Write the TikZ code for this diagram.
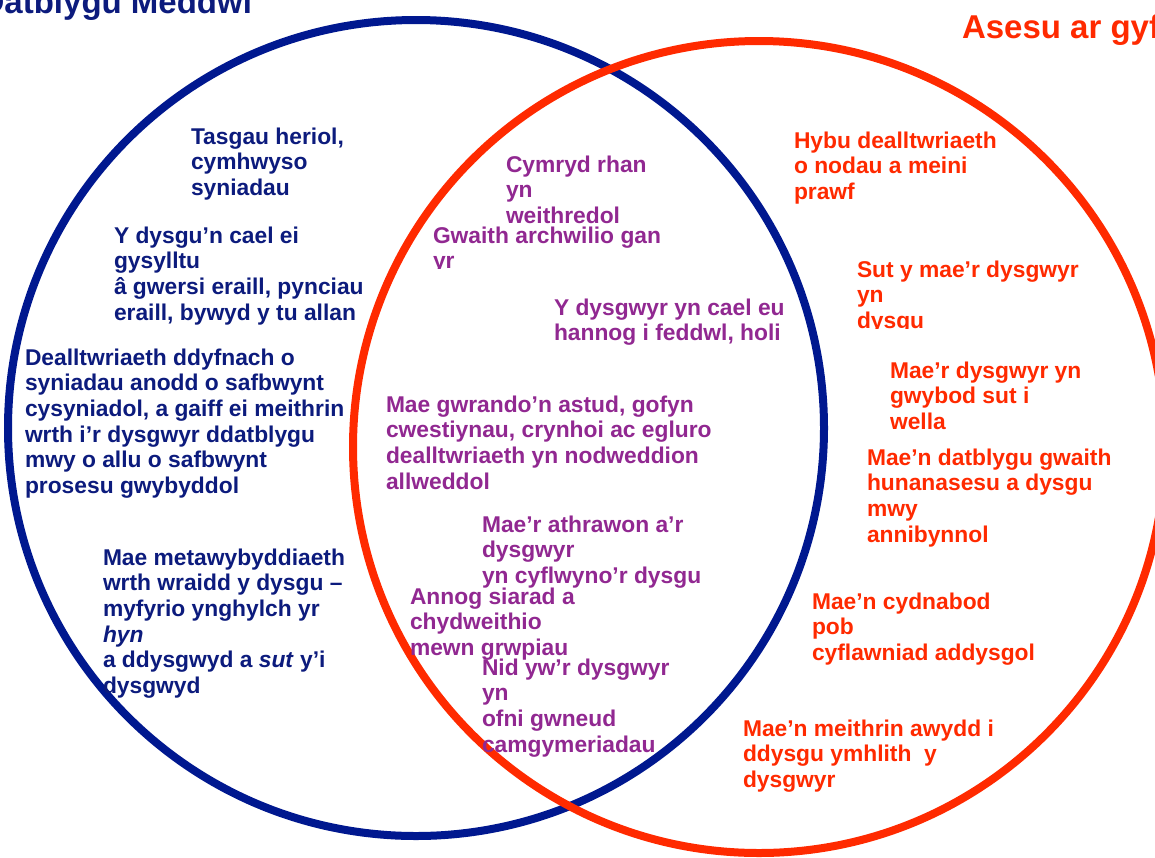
\documentclass[tikz,border=0pt]{standalone}
\usepackage{fontspec}
\setmainfont{Liberation Sans}
\definecolor{navy}{RGB}{0,24,143}
\definecolor{navytxt}{RGB}{12,27,125}
\definecolor{redc}{RGB}{255,42,0}
\definecolor{purp}{RGB}{145,40,145}
\newcommand\blk[1]{\vtop{\baselineskip=25.7pt\lineskiplimit=-100pt\lineskip=0pt\halign{##\hfil\cr#1\crcr}}}
\tikzset{
  txt/.style={anchor=base west, inner sep=0pt, outer sep=0pt, font=\fontsize{22.8}{25.7}\selectfont\bfseries},
  bt/.style={txt, text=navytxt},
  pt/.style={txt, text=purp},
  rt/.style={txt, text=redc},
  ring/.style={line width=8pt},
  ttl/.style={inner sep=0pt, outer sep=0pt, font=\fontsize{33}{37}\selectfont\bfseries}
}
\begin{document}
\begin{tikzpicture}[x=1pt,y=-1pt]
\useasboundingbox (0,0) rectangle (1155,857);
\fill[white] (0,0) rectangle (1155,857);
\draw[ring, navy] (416,428) circle[radius=408pt];
\draw[ring, redc] (759,447) circle[radius=406pt];
% titles
\node[ttl, anchor=base east, text=navytxt] (tdm) at (252,13) {Datblygu Meddwl};
\node[ttl, anchor=base west, text=redc] (taf) at (962,38) {Asesu ar gyfer dysgu};
% blue texts
\node[bt] (b1) at (191,144) {\blk{Tasgau heriol,\cr cymhwyso\cr syniadau}};
\node[bt] (b2) at (114,243) {\blk{Y dysgu’n cael ei\cr gysylltu\cr â gwersi eraill, pynciau\cr eraill, bywyd y tu allan}};
\node[bt] (b3) at (25,365) {\blk{Dealltwriaeth ddyfnach o\cr syniadau anodd o safbwynt\cr cysyniadol, a gaiff ei meithrin\cr wrth i’r dysgwyr ddatblygu\cr mwy o allu o safbwynt\cr prosesu gwybyddol}};
\node[bt] (b4) at (103,565) {\blk{Mae metawybyddiaeth\cr wrth wraidd y dysgu –\cr myfyrio ynghylch yr\cr \textit{hyn}\cr a ddysgwyd a \textit{sut} y’i\cr dysgwyd}};
% purple texts
\node[pt] (p1) at (506,172) {\blk{Cymryd rhan\cr yn\cr weithredol}};
\begin{scope}
\clip (420,200) rectangle (700,268.5);
\node[pt] (p2) at (433,243) {\blk{Gwaith archwilio gan\cr yr}};
\end{scope}
\node[pt] (p3) at (554,315) {\blk{Y dysgwyr yn cael eu\cr hannog i feddwl, holi}};
\node[pt] (p4) at (386,412) {\blk{Mae gwrando’n astud, gofyn\cr cwestiynau, crynhoi ac egluro\cr dealltwriaeth yn nodweddion\cr allweddol}};
\node[pt] (p5) at (482,532) {\blk{Mae’r athrawon a’r\cr dysgwyr\cr yn cyflwyno’r dysgu}};
\node[pt] (p6) at (410,604) {\blk{Annog siarad a\cr chydweithio\cr mewn grwpiau}};
\node[pt] (p7) at (482,675) {\blk{Nid yw’r dysgwyr\cr yn\cr ofni gwneud\cr camgymeriadau}};
% red texts
\node[rt] (r1) at (794,148) {\blk{Hybu dealltwriaeth\cr o nodau a meini\cr prawf}};
\begin{scope}
\clip (840,240) rectangle (1100,328.5);
\node[rt] (r2) at (857,277) {\blk{Sut y mae’r dysgwyr\cr yn\cr dysgu}};
\end{scope}
\node[rt] (r3) at (890,378) {\blk{Mae’r dysgwyr yn\cr gwybod sut i\cr wella}};
\node[rt] (r4) at (867,465) {\blk{Mae’n datblygu gwaith\cr hunanasesu a dysgu\cr mwy\cr annibynnol}};
\node[rt] (r5) at (812,609) {\blk{Mae’n cydnabod\cr pob\cr cyflawniad addysgol}};
\node[rt] (r6) at (743,736) {\blk{Mae’n meithrin awydd i\cr ddysgu ymhlith\ \ y\cr dysgwyr}};
\end{tikzpicture}
\end{document}
